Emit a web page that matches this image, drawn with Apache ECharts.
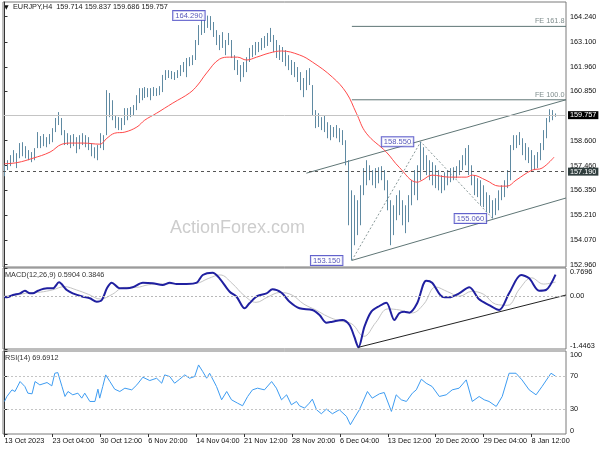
<!DOCTYPE html>
<html><head><meta charset="utf-8">
<script src="https://cdn.jsdelivr.net/npm/echarts@6/dist/echarts.min.js"></script>
<style>html,body{margin:0;padding:0;background:#fff}#c{width:600px;height:450px}</style>
</head><body><div id="c"></div>
<script>
// ---- price bars (each bar = 8h) ----
const opens=[157.20,157.40,157.60,157.85,157.70,158.00,158.40,158.10,158.00,157.85,
157.90,158.30,158.80,158.45,158.70,158.50,158.80,159.10,159.55,159.50,
158.95,158.60,158.80,158.45,158.75,158.40,158.70,158.60,158.55,158.30,
158.10,157.95,158.30,158.50,158.90,160.20,160.00,159.70,159.40,159.30,
159.50,159.90,159.80,160.00,160.10,160.50,160.80,160.70,160.90,160.75,
160.85,160.80,160.90,160.95,161.50,161.60,161.55,161.70,161.50,161.75,
161.95,162.05,162.20,162.30,162.40,163.10,163.70,163.90,164.00,164.10,
163.80,163.50,163.10,163.00,163.15,163.00,163.15,162.45,162.00,161.80,
161.50,161.90,162.30,162.70,162.60,162.90,162.80,163.10,163.00,163.40,
163.30,162.90,162.60,162.80,162.40,162.30,162.00,161.90,161.70,161.50,
161.10,160.95,161.60,161.10,159.90,159.40,159.60,159.20,159.40,158.90,
159.10,158.90,159.15,158.80,158.60,157.60,155.30,155.00,155.50,155.20,
156.40,157.00,157.30,157.00,157.10,156.80,157.20,157.00,156.60,155.70,
154.60,155.00,155.80,155.50,155.20,155.40,155.90,156.50,156.80,157.30,
158.20,157.60,157.40,157.10,157.00,156.70,156.90,156.50,156.90,156.80,
157.10,157.00,157.30,157.50,157.70,158.10,157.30,156.80,156.40,156.70,
156.00,156.20,155.60,155.80,155.30,155.80,156.00,156.30,156.60,157.10,
158.20,158.60,158.70,158.60,158.20,158.00,157.80,157.50,157.60,157.90,
158.40,158.90,159.50,159.80,159.714];
const highs=[157.48,157.71,157.94,158.17,158.03,158.49,158.53,158.35,158.17,158.08,
158.26,158.99,158.81,158.90,158.76,158.90,159.17,159.63,159.90,159.63,
159.08,158.94,158.85,158.90,158.76,158.85,158.94,158.85,158.76,158.49,
158.30,158.40,158.94,158.85,160.90,160.77,160.44,159.76,159.67,159.63,
160.08,160.08,160.13,160.22,160.67,160.99,160.99,161.04,160.99,160.99,
161.04,160.99,161.08,161.59,161.81,161.81,161.77,161.72,161.81,162.04,
162.18,162.36,162.40,162.49,163.18,163.86,164.18,164.09,164.29,164.27,
164.00,163.63,163.41,163.54,163.18,163.50,163.18,162.49,162.27,162.04,
162.18,162.40,162.82,162.95,163.09,163.09,163.27,163.36,163.50,163.73,
163.41,163.18,162.95,162.86,162.72,162.49,162.27,162.18,161.95,161.72,
161.45,161.81,161.90,161.13,159.99,159.85,159.67,159.76,159.44,159.31,
159.22,159.31,159.17,159.08,158.62,157.71,156.34,156.12,155.89,156.57,
157.35,157.71,157.48,157.26,157.35,157.39,157.44,157.26,156.80,155.89,
155.66,156.12,156.34,155.89,155.66,156.12,156.80,157.26,157.48,158.55,
158.30,157.94,157.71,157.62,157.48,157.26,157.03,157.16,157.26,157.35,
157.39,157.44,157.71,157.94,158.26,158.40,157.48,157.03,156.89,156.80,
156.57,156.25,156.12,155.89,155.98,156.34,156.57,156.80,157.26,158.40,
158.85,158.85,158.99,158.71,158.49,158.30,158.17,157.94,158.08,158.49,
159.08,159.63,160.03,159.99,159.837];
const lows=[156.98,157.26,157.44,157.62,157.35,157.80,157.89,157.80,157.71,157.62,
157.71,158.26,158.26,158.35,158.30,158.44,158.53,158.99,159.31,158.85,
158.40,158.40,158.26,158.35,158.03,158.21,158.40,158.30,158.17,157.89,
157.80,157.71,158.26,158.17,158.85,159.67,159.53,159.17,159.08,159.08,
159.31,159.53,159.67,159.76,159.99,160.31,160.44,160.54,160.58,160.44,
160.63,160.63,160.67,160.81,161.36,161.45,161.40,161.36,161.45,161.54,
161.72,161.49,161.99,162.04,162.27,162.95,163.41,163.50,163.73,163.63,
163.32,162.95,162.72,162.82,162.49,162.95,162.36,161.81,161.59,161.28,
161.49,161.72,162.18,162.40,162.49,162.63,162.72,162.82,162.91,163.09,
162.63,162.36,162.27,162.18,161.99,161.81,161.59,161.49,161.27,160.90,
160.58,160.90,161.13,159.76,159.17,159.22,159.08,158.99,158.71,158.62,
158.76,158.71,158.53,158.40,157.48,154.75,153.15,153.84,154.30,154.75,
156.12,156.57,156.80,156.57,156.44,156.66,156.80,156.34,155.43,153.84,
154.30,154.98,155.21,154.75,154.39,154.89,155.66,156.12,155.89,156.80,
157.26,157.03,156.80,156.57,156.44,156.34,156.21,156.34,156.57,156.71,
156.80,156.89,157.03,157.26,157.48,157.03,156.57,156.12,156.03,155.66,
155.57,155.34,155.30,155.06,155.21,155.43,155.89,156.03,156.44,156.80,
158.17,158.26,158.40,157.94,157.71,157.58,157.26,157.26,157.35,157.71,
158.17,158.71,159.44,159.53,159.686];
const closes=[157.40,157.60,157.85,157.70,158.00,158.40,158.10,158.00,157.85,157.90,
158.20,158.80,158.45,158.70,158.50,158.80,159.10,159.55,159.50,158.95,
158.60,158.80,158.45,158.75,158.40,158.70,158.60,158.55,158.30,158.10,
157.95,158.30,158.50,158.70,160.20,160.00,159.70,159.40,159.30,159.50,
159.90,159.80,160.00,160.10,160.50,160.80,160.70,160.90,160.75,160.85,
160.80,160.90,160.95,161.50,161.60,161.55,161.70,161.50,161.75,161.95,
162.05,162.20,162.30,162.40,163.10,163.70,163.90,164.00,164.10,163.80,
163.50,163.10,163.00,163.30,162.70,163.30,162.50,162.00,161.80,161.50,
161.90,162.30,162.70,162.60,162.90,162.80,163.10,163.00,163.40,163.30,
162.90,162.60,162.80,162.40,162.30,162.00,161.90,161.70,161.50,161.10,
160.80,161.60,161.30,159.90,159.40,159.60,159.20,159.50,158.90,159.10,
158.90,159.20,158.80,158.60,157.60,155.30,155.00,155.50,155.20,156.40,
157.00,157.30,157.00,157.10,156.80,157.20,157.00,156.60,155.70,154.60,
155.00,155.80,155.50,155.20,155.40,155.90,156.50,156.80,157.30,158.20,
157.60,157.40,157.10,157.00,156.70,156.90,156.50,156.90,156.80,157.10,
157.00,157.30,157.50,157.70,158.10,157.30,156.80,156.40,156.70,156.00,
156.20,155.60,155.80,155.30,155.80,156.00,156.30,156.60,157.10,158.20,
158.60,158.70,158.60,158.20,158.00,157.80,157.50,157.60,157.90,158.40,
158.90,159.50,159.80,159.65,159.757];

// ---- moving average (read) ----
const maIdx=[0,4.2,9.5,15.2,19.2,22.5,26.2,31.8,34.2,36.8,40.2,44.2,46.8,50.8,56.2,61.8,64.5,67.5,71.8,75.2,77.8,80.8,84.2,88.5,92.5,98.5,102.8,109.5,114.2,117.5,120.8,127.5,131.8,137.8,139.5,142.8,148.5,154.2,156.2,160.8,165.2,167.8,170.8,176.2,179.5,183.5];
const maVal=[157.55,157.60,157.80,158.08,158.44,158.49,158.49,158.44,158.71,158.94,158.99,159.22,159.53,159.85,160.31,160.77,161.13,161.68,162.31,162.40,162.40,162.27,162.40,162.59,162.68,162.50,162.18,161.49,160.77,159.85,158.94,158.08,157.39,156.71,156.80,157.03,156.94,156.94,157.03,156.80,156.53,156.53,156.80,157.26,157.35,157.85];

// ---- MACD (read) ----
const macdIdx=[0,0.8,2.8,5.2,6.8,8.5,9.5,11.2,14.2,16.2,18.2,20.8,22.8,26.2,28.5,30.8,32.5,34.2,35.8,38.5,40.8,42.8,46.2,49.5,52.8,55.2,57.5,60.8,64.2,66.2,69.5,71.8,75.2,77.5,80.2,81.8,84.5,87.5,89.5,92.5,95.2,98.5,102.8,105.2,107.5,109.5,112.8,115.2,116.8,118.2,120.2,122.5,125.2,127.5,130.2,131.8,133.5,135.2,137.8,140.8,142.8,146.2,148.5,151.8,155.2,158.5,161.8,165.2,168.5,172.5,175.2,178.5,180.8,184];
const macdVal=[-0.016,-0.032,0.031,0.077,0.149,0.077,0.077,0.149,0.214,0.214,0.378,0.168,0.077,-0.016,-0.059,-0.152,-0.106,0.214,0.367,0.214,0.214,0.242,0.367,0.351,0.304,0.367,0.332,0.332,0.367,0.578,0.641,0.488,0.121,-0.016,-0.333,-0.196,0.004,0.077,0.187,0.094,-0.152,-0.333,-0.380,-0.516,-0.727,-0.699,-0.653,-0.790,-1.110,-1.40,-0.836,-0.426,-0.270,-0.180,-0.653,-0.470,-0.426,-0.453,-0.196,0.422,0.367,-0.016,-0.032,0.077,0.242,-0.087,-0.243,-0.380,0.077,0.578,0.488,0.149,0.168,0.5904];
const sigIdx=[0,4,8,12,16,20,24,28,32,36,40,44,48,52,56,60,64,68,72,76,80,84,88,92,96,100,104,108,112,116,120,124,128,132,136,140,144,148,152,156,160,164,168,172,176,180,184];
const sigVal=[0.00,0.03,0.09,0.11,0.17,0.26,0.17,0.05,-0.08,0.05,0.24,0.24,0.31,0.33,0.34,0.34,0.35,0.48,0.58,0.35,0.02,-0.17,-0.02,0.10,0.03,-0.22,-0.38,-0.56,-0.68,-0.76,-1.10,-0.72,-0.35,-0.38,-0.46,-0.22,0.25,0.12,0.00,0.13,0.05,-0.22,-0.25,0.20,0.50,0.33,0.3846];

// ---- RSI (read) ----
const rsiIdx=[0,0.8,2.5,3.5,5.2,6.8,7.8,9.2,10.2,11.8,14.2,15.8,16.8,17.8,19.2,20.2,21.2,22.8,24.5,25.8,26.8,28.5,30.2,31.2,31.8,32.8,33.8,35.2,36.8,38.5,40.2,42.5,44.2,46.2,48.5,50.8,52.5,53.5,55.2,56.8,58.5,60.2,61.8,63.5,64.8,66.2,67.5,68.5,70.8,72.5,74.2,75.8,77.8,79.5,81.2,82.8,84.5,86.8,89.2,90.8,92.5,94.2,95.8,97.5,98.5,100.2,101.8,102.8,104.2,105.8,107.5,109.5,111.8,114.2,115.5,116.8,118.5,121.2,122.8,125.2,126.8,129.2,130.8,132.5,134.2,136.2,137.5,139.2,140.8,142.8,145.2,147.5,149.5,151.8,154.2,156.2,158.5,160.2,161.8,164.2,166.2,168.5,170.8,172.8,175.2,177.5,179.5,182.5,184];
const rsiVal=[39.2,45.2,53.2,51.2,63.2,57.2,49.2,48.4,63.2,59.2,62.0,58.0,73.2,74.0,57.2,45.2,51.2,47.2,49.2,43.2,49.2,39.2,39.2,54.0,43.2,57.2,71.2,63.2,54.0,51.2,55.2,53.2,59.2,68.4,64.4,67.2,61.2,71.2,69.2,61.2,66.0,71.2,67.2,69.2,83.2,75.2,67.2,73.2,57.2,41.2,51.2,41.2,37.2,34.0,45.2,53.2,55.2,53.2,63.2,55.2,41.2,47.2,35.2,39.2,34.0,31.2,37.2,42.0,29.2,24.4,30.0,24.4,29.2,21.2,11.2,19.2,29.2,51.2,43.2,48.4,50.0,27.2,47.2,41.2,39.2,49.2,53.2,66.0,61.2,57.2,45.2,47.2,53.2,55.2,65.2,39.2,45.2,41.2,39.2,33.2,45.2,73.2,73.2,65.2,53.2,47.2,57.2,73.2,69.69];

// ---- annotations (data coordinates: bar index, price) ----
const pivotIdx=[68,139,116,163];
const pivotVal=[164.29,158.55,153.15,155.06];
const channelUpper=[[100.8,157.12],[187.5,160.46]];
const channelLower=[[116,153.15],[187.5,155.99]];
const feLevels=[160.46,163.80];
const feNames=['FE 100.0','FE 161.8'];
const feStart=116;
const macdTrend=[[118.2,-1.40],[187.5,0.03]];

// ---- ticks / labels ----
const priceTicks=[152.96,154.07,155.21,156.35,157.46,158.60,160.85,161.96,163.10,164.24];
const macdTicks=[-1.4463,0,0.7696];
const rsiTicks=[0,30,70,100];
const timeLabels=['13 Oct 2023','23 Oct 04:00','30 Oct 12:00','6 Nov 20:00','14 Nov 04:00','21 Nov 12:00','28 Nov 20:00','6 Dec 04:00','13 Dec 12:00','20 Dec 20:00','29 Dec 04:00','8 Jan 12:00'];
const timeIdx=timeLabels.map((_,k)=>k*16);

const N=188;
const FONT='"Liberation Sans", Arial, sans-serif';
const FS=7.3;
const BAR='#5f8aa2';
const cats=Array.from({length:N},(_,i)=>i);
const ohlc=opens.map((o,i)=>[o,closes[i],lows[i],highs[i]]);
const pairs=(a,b)=>a.map((x,i)=>[x,b[i]]);

const chart=echarts.init(document.getElementById('c'),null,{renderer:'canvas'});
const gridCommon={left:3,right:34,show:true,borderColor:'#7a7a7a',borderWidth:1,backgroundColor:'transparent'};
const hiddenX=(g)=>({type:'value',gridIndex:g,min:-0.5,max:N-0.5,show:false});
const yCommon={type:'value',position:'right',splitLine:{show:false},scale:true,
  axisLine:{show:true,lineStyle:{color:'#333'}},
  axisLabel:{color:'#111',fontSize:FS,fontFamily:FONT,margin:4,showMinLabel:true,showMaxLabel:true}};

chart.setOption({
  animation:false,
  backgroundColor:'#fff',
  textStyle:{fontFamily:FONT},
  grid:[
    Object.assign({top:2,height:265},gridCommon),
    Object.assign({top:268,height:81},gridCommon),
    Object.assign({top:351,height:83},gridCommon)
  ],
  xAxis:[
    {type:'category',gridIndex:0,data:cats,boundaryGap:true,show:false},
    hiddenX(0),hiddenX(1),
    {type:'value',gridIndex:2,min:-0.5,max:N-0.5,splitLine:{show:false},axisLine:{show:false},
     axisTick:{show:true,customValues:timeIdx,length:3,lineStyle:{color:'#333'}},
     axisLabel:{customValues:timeIdx,formatter:v=>timeLabels[Math.round(v/16)],align:'left',
       color:'#111',fontSize:FS,fontFamily:FONT,margin:3}}
  ],
  yAxis:[
    Object.assign({},yCommon,{gridIndex:0,min:152.85,max:164.91,
      axisTick:{show:true,customValues:priceTicks,length:3,lineStyle:{color:'#333'}},
      axisLabel:Object.assign({},yCommon.axisLabel,{customValues:priceTicks,formatter:v=>v.toFixed(3)})}),
    Object.assign({},yCommon,{gridIndex:1,min:-1.4463,max:0.7696,
      axisTick:{show:true,customValues:macdTicks,length:3,lineStyle:{color:'#333'}},
      axisLabel:Object.assign({},yCommon.axisLabel,{customValues:macdTicks,
        formatter:v=>v===0?'0.00':v.toFixed(4),verticalAlignMaxLabel:'top',verticalAlignMinLabel:'bottom'})}),
    Object.assign({},yCommon,{gridIndex:2,min:0,max:100,
      axisTick:{show:true,customValues:rsiTicks,length:3,lineStyle:{color:'#333'}},
      axisLabel:Object.assign({},yCommon.axisLabel,{customValues:rsiTicks,
        formatter:v=>String(v),verticalAlignMaxLabel:'top',verticalAlignMinLabel:'bottom'})})
  ],
  series:[
    {type:'candlestick',xAxisIndex:0,yAxisIndex:0,data:ohlc,barWidth:0.6,z:3,
     itemStyle:{color:BAR,color0:BAR,borderColor:BAR,borderColor0:BAR,borderWidth:1},
     markLine:{silent:true,symbol:'none',animation:false,
       data:[
        {yAxis:159.757,lineStyle:{color:'#c4c4c4',type:'solid',width:1},
         label:{show:true,position:'end',distance:2,formatter:'159.757',backgroundColor:'#000',color:'#fff',
           padding:[1,2,0,2],fontSize:FS,fontFamily:FONT}},
        {yAxis:157.19,lineStyle:{color:'#555',type:[3,3],width:1},
         label:{show:true,position:'end',distance:2,formatter:'157.190',backgroundColor:'#2f3d3d',color:'#fff',
           padding:[1,2,0,2],fontSize:FS,fontFamily:FONT}}
       ]}},
    {type:'line',xAxisIndex:1,yAxisIndex:0,data:pairs(maIdx,maVal),showSymbol:false,smooth:0.4,z:4,
     lineStyle:{color:'#ff4a4a',width:1}},
    {type:'line',xAxisIndex:1,yAxisIndex:0,data:channelUpper,showSymbol:false,lineStyle:{color:'#5f7676',width:1}},
    {type:'line',xAxisIndex:1,yAxisIndex:0,data:channelLower,showSymbol:false,lineStyle:{color:'#5f7676',width:1}},
    {type:'line',xAxisIndex:1,yAxisIndex:0,data:[[feStart,feLevels[0]],[N-0.5,feLevels[0]]],showSymbol:false,lineStyle:{color:'#5f7676',width:1}},
    {type:'line',xAxisIndex:1,yAxisIndex:0,data:[[feStart,feLevels[1]],[N-0.5,feLevels[1]]],showSymbol:false,lineStyle:{color:'#5f7676',width:1}},
    {type:'line',xAxisIndex:1,yAxisIndex:0,data:pairs(pivotIdx,pivotVal).filter((_,k)=>k!==0).sort((a,b)=>a[0]-b[0]),
     showSymbol:false,lineStyle:{color:'#8a9a9a',width:1,type:[2,2]}},
    {type:'scatter',xAxisIndex:1,yAxisIndex:0,symbolSize:1,itemStyle:{color:'rgba(0,0,0,0)'},z:5,
     data:pivotIdx.map((x,k)=>({value:[x,pivotVal[k]],
       label:{show:true,position:'left',distance:[3,7,9,6][k],formatter:pivotVal[k].toFixed(3),
         backgroundColor:'#fff',borderColor:'#3b3bbf',borderWidth:1,color:'#2a2aa8',
         padding:[1,2,0,2],fontSize:FS+0.3,fontFamily:FONT}})).concat(
       feLevels.map((v,k)=>({value:[N-0.5,v],
         label:{show:true,position:[-1,-1],align:'right',verticalAlign:'bottom',formatter:feNames[k],
           color:'#5f7070',fontSize:FS,fontFamily:FONT}})))},
    // MACD
    {type:'line',xAxisIndex:2,yAxisIndex:1,data:pairs(sigIdx,sigVal),showSymbol:false,smooth:0.4,
     lineStyle:{color:'#c4c4c4',width:1},
     markLine:{silent:true,symbol:'none',label:{show:false},data:[{yAxis:0}],lineStyle:{color:'#b8b8b8',type:[2,2],width:1}}},
    {type:'line',xAxisIndex:2,yAxisIndex:1,data:pairs(macdIdx,macdVal),showSymbol:false,smooth:0.3,
     lineStyle:{color:'#2020a0',width:2}},
    {type:'line',xAxisIndex:2,yAxisIndex:1,data:macdTrend,showSymbol:false,lineStyle:{color:'#222',width:1}},
    // RSI
    {type:'line',xAxisIndex:3,yAxisIndex:2,data:pairs(rsiIdx,rsiVal),showSymbol:false,
     lineStyle:{color:'#3d9cf2',width:1},
     markLine:{silent:true,symbol:'none',label:{show:false},data:[{yAxis:70},{yAxis:30}],
       lineStyle:{color:'#c4c4c4',type:[2,2],width:1}}}
  ],
  graphic:[
    {type:'text',left:170,top:219,z:0,zlevel:0,style:{text:'ActionForex.com',fontSize:18,fontFamily:FONT,fill:'#cdcdcd'}},
    {type:'text',left:4,top:4,style:{text:'▼',fontSize:6,fontFamily:'DejaVu Sans',fill:'#111'}},
    {type:'text',left:13,top:3,style:{text:'EURJPY,H4  159.714 159.837 159.686 159.757',fontSize:FS,fontFamily:FONT,fill:'#222'}},
    {type:'text',left:5,top:271,style:{text:'MACD(12,26,9) 0.5904 0.3846',fontSize:FS,fontFamily:FONT,fill:'#333'}},
    {type:'text',left:5,top:354,style:{text:'RSI(14) 69.6912',fontSize:FS,fontFamily:FONT,fill:'#333'}}
  ]
});
</script></body></html>
